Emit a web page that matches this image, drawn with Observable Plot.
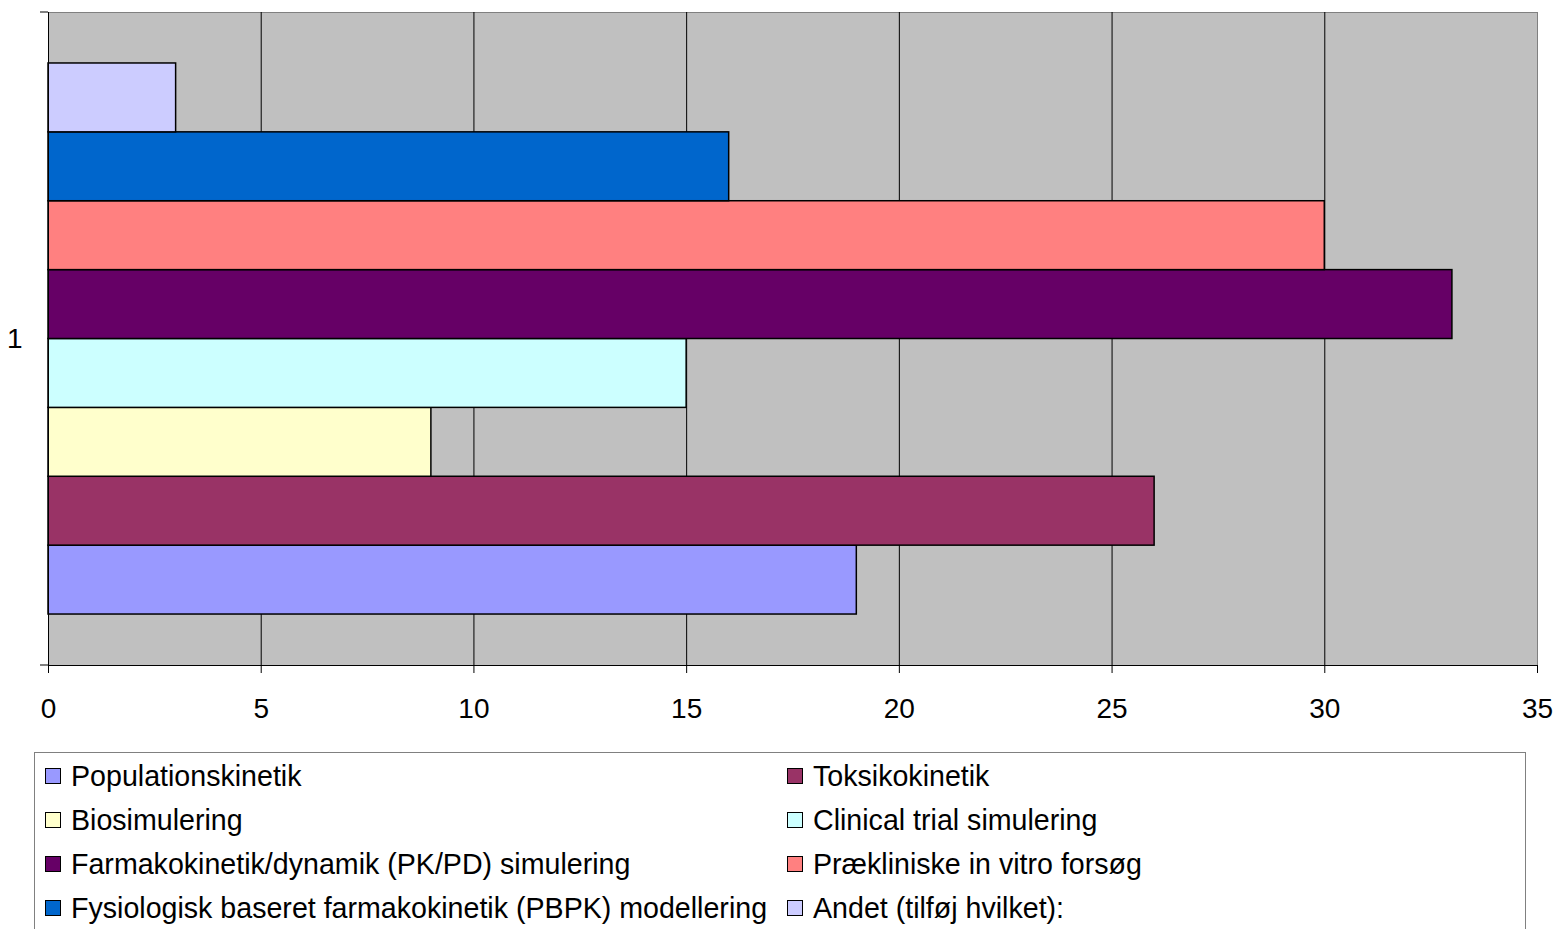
<!DOCTYPE html>
<html><head><meta charset="utf-8">
<script src="https://cdn.jsdelivr.net/npm/d3@7"></script>
<script src="https://cdn.jsdelivr.net/npm/@observablehq/plot@0.6"></script>
<style>
html,body{margin:0;padding:0;overflow:hidden;background:#fff;font-family:"Liberation Sans",Arial,sans-serif;}
#chart{position:absolute;left:0;top:0;}
#legend{position:absolute;left:34px;top:752px;width:1492px;height:200px;border:1px solid #808080;box-sizing:border-box;
  display:grid;grid-template-columns:742px auto;grid-auto-rows:44px;padding:1px 0 0 10px;font-size:28.6px;color:#000;}
.item{display:flex;align-items:center;white-space:nowrap;}
.sw{width:14px;height:14px;border:1px solid #000;margin-right:10px;flex:none;}
</style></head>
<body><div id="chart"></div><div id="legend"></div>
<script>
const categories = [
  "Populationskinetik",
  "Toksikokinetik",
  "Biosimulering",
  "Clinical trial simulering",
  "Farmakokinetik/dynamik (PK/PD) simulering",
  "Prækliniske in vitro forsøg",
  "Fysiologisk baseret farmakokinetik (PBPK) modellering",
  "Andet (tilføj hvilket):"
];
const values = [19, 26, 9, 15, 33, 30, 16, 3];
const colors = ["#9999FF", "#993366", "#FFFFCC", "#CCFFFF", "#660066", "#FF8080", "#0066CC", "#CCCCFF"];
const xTicks = [0, 5, 10, 15, 20, 25, 30, 35];
const groupLabel = "1";

const data = categories.map((c, i) => ({name: c, value: values[i]}));

const chart = Plot.plot({
  width: 1558, height: 745,
  marginTop: 12, marginLeft: 48, marginRight: 21, marginBottom: 80,
  style: {fontFamily: "Liberation Sans, Arial, sans-serif", fontSize: "28px", color: "#000", background: "transparent"},
  x: {domain: [0, 35], label: null},
  y: {domain: [...categories].reverse(), axis: null, paddingInner: 0, paddingOuter: 0.74, round: false},
  color: {domain: categories, range: colors},
  marks: [
    Plot.frame({fill: "#C0C0C0", stroke: "#808080"}),
    Plot.ruleX(xTicks.slice(1, -1), {stroke: "#000", strokeWidth: 1}),
    Plot.barX(data, {x: "value", y: "name", fill: "name", stroke: "#000", strokeWidth: 1.5}),
    Plot.frame({anchor: "left", stroke: "#000"}),
    Plot.frame({anchor: "bottom", stroke: "#000"}),
    Plot.axisX({ticks: xTicks, tickSize: 8, tickPadding: 25, fontSize: 28, stroke: "#000", label: null}),
    Plot.text([groupLabel], {frameAnchor: "left", textAnchor: "end", dx: -26, fontSize: 28, fill: "#000"})
  ]
});

// small tick marks at the ends of the category axis
const yr = chart.scale("y").range;
const xr = chart.scale("x").range;
d3.select(chart).append("g").selectAll("line").data(yr).join("line")
  .attr("x1", xr[0] - 8).attr("x2", xr[0]).attr("y1", d => d).attr("y2", d => d)
  .attr("stroke", "#000");

document.getElementById("chart").appendChild(chart);

const legend = d3.select("#legend");
const items = legend.selectAll(".item").data(data).join("div").attr("class", "item");
items.append("div").attr("class", "sw").style("background", (d, i) => colors[i]);
items.append("span").text(d => d.name);
</script>
</body></html>
